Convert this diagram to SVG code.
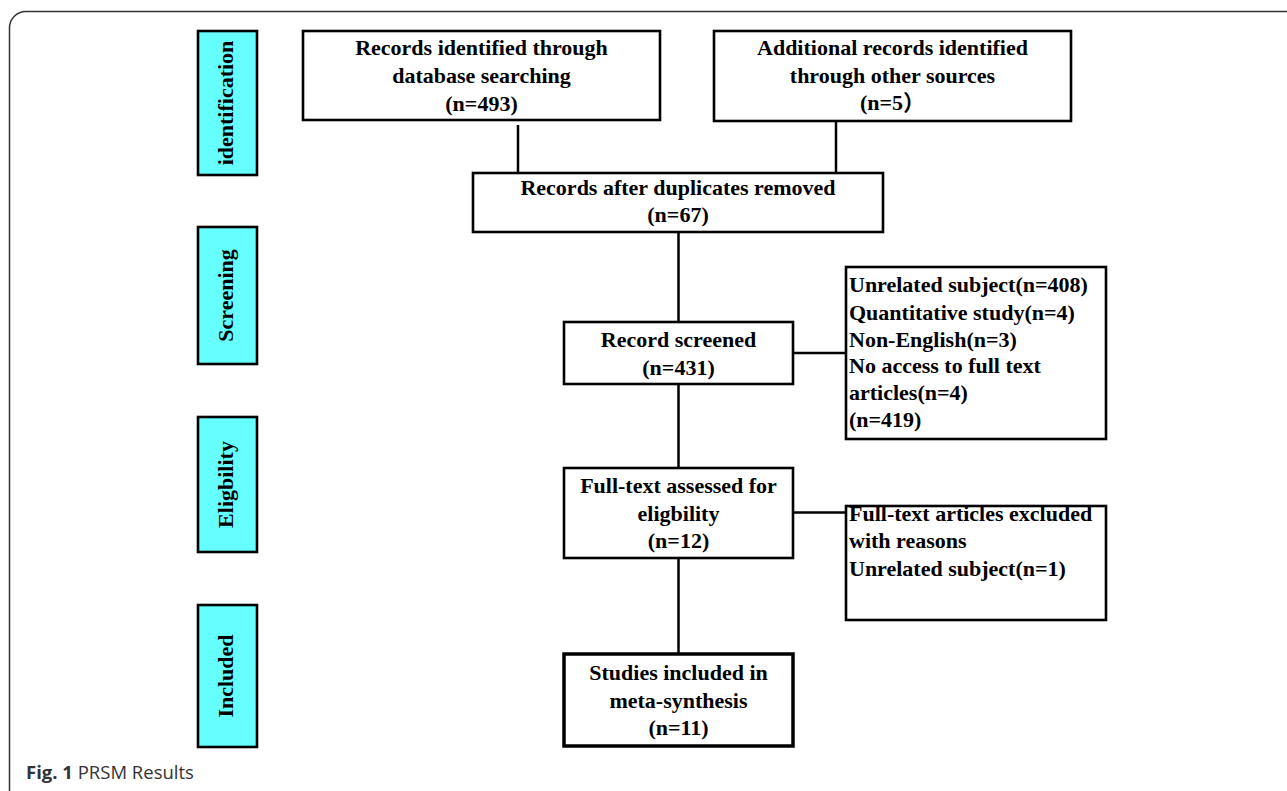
<svg xmlns="http://www.w3.org/2000/svg" width="1287" height="791" viewBox="0 0 1287 791">
<style>
.box{fill:#fff;stroke:#000;stroke-width:2.6}
.side{fill:#66ffff;stroke:#000;stroke-width:2.6}
.t{font-family:"Liberation Serif","Noto Sans CJK SC",serif;font-weight:bold;font-size:22px;fill:#000}
.c{text-anchor:middle}
.conn line{stroke:#000;stroke-width:2.5}
.cap{font-family:"Open Sans","Liberation Sans",sans-serif;font-size:18.5px;fill:#333}
</style>
<rect width="1287" height="791" fill="#fff"/>
<path d="M9.5,791 L9.5,28 A16.5,16.5 0 0 1 26,11.5 L1287,11.5" fill="none" stroke="#333" stroke-width="1.5"/>
<g id="side-identification"><rect class="side" x="198" y="31" width="59" height="144"/><text class="t c" transform="translate(233,103) rotate(-90)">identification</text></g>
<g id="side-screening"><rect class="side" x="198" y="227" width="59" height="137"/><text class="t c" transform="translate(233,295.5) rotate(-90)">Screening</text></g>
<g id="side-eligibility"><rect class="side" x="198" y="417" width="59" height="135"/><text class="t c" transform="translate(233,484.5) rotate(-90)">Eligbility</text></g>
<g id="side-included"><rect class="side" x="198" y="605" width="59" height="142"/><text class="t c" transform="translate(233,676) rotate(-90)">Included</text></g>
<g id="conn" class="conn">
<line x1="518" y1="125" x2="518" y2="173"/>
<line x1="836" y1="121" x2="836" y2="173"/>
<line x1="835" y1="119" x2="1060" y2="119"/>
<line x1="678.5" y1="232" x2="678.5" y2="322"/>
<line x1="678.5" y1="384" x2="678.5" y2="468"/>
<line x1="678.5" y1="558" x2="678.5" y2="654"/>
<line x1="793" y1="353" x2="846" y2="353"/>
<line x1="793" y1="512.5" x2="846" y2="512.5"/>
</g>
<g id="n-database"><rect class="box" x="303" y="31" width="357" height="89"/><text class="t c" x="481.5" y="55">Records identified through</text><text class="t c" x="481.5" y="83">database searching</text><text class="t c" x="481.5" y="111">(n=493)</text></g>
<g id="n-other"><rect class="box" x="714" y="31" width="357" height="90"/><text class="t c" x="892.5" y="55">Additional records identified</text><text class="t c" x="892.5" y="83">through other sources</text><text class="t c" x="892.5" y="110">(n=5）</text></g>
<g id="n-dup"><rect class="box" x="473" y="173" width="410" height="59"/><text class="t c" x="678" y="195">Records after duplicates removed</text><text class="t c" x="678" y="222">(n=67)</text></g>
<g id="n-screened"><rect class="box" x="564" y="322" width="229" height="62"/><text class="t c" x="678.5" y="347">Record screened</text><text class="t c" x="678.5" y="375">(n=431)</text></g>
<g id="n-excl1"><rect class="box" x="846" y="267" width="260" height="172"/>
<text class="t" x="849" y="292">Unrelated subject(n=408)</text>
<text class="t" x="849" y="319.5">Quantitative study(n=4)</text>
<text class="t" x="849" y="347">Non-English(n=3)</text>
<text class="t" x="849" y="373">No access to full text</text>
<text class="t" x="849" y="400">articles(n=4)</text>
<text class="t" x="849" y="427">(n=419)</text></g>
<g id="n-fulltext"><rect class="box" x="564" y="468" width="229" height="90"/><text class="t c" x="678.5" y="493">Full-text assessed for</text><text class="t c" x="678.5" y="521">eligbility</text><text class="t c" x="678.5" y="548">(n=12)</text></g>
<g id="n-excl2"><rect class="box" x="846" y="506" width="260" height="114"/>
<text class="t" x="849" y="521">Full-text articles excluded</text>
<text class="t" x="849" y="548">with reasons</text>
<text class="t" x="849" y="576">Unrelated subject(n=1)</text></g>
<g id="n-included"><rect class="box" x="564" y="654" width="229" height="92" style="stroke-width:3.5"/><text class="t c" x="678.5" y="680">Studies included in</text><text class="t c" x="678.5" y="708">meta-synthesis</text><text class="t c" x="678.5" y="735">(n=11)</text></g>
<text class="cap" x="26" y="779"><tspan font-weight="bold">Fig. 1</tspan> PRSM Results</text>
</svg>
